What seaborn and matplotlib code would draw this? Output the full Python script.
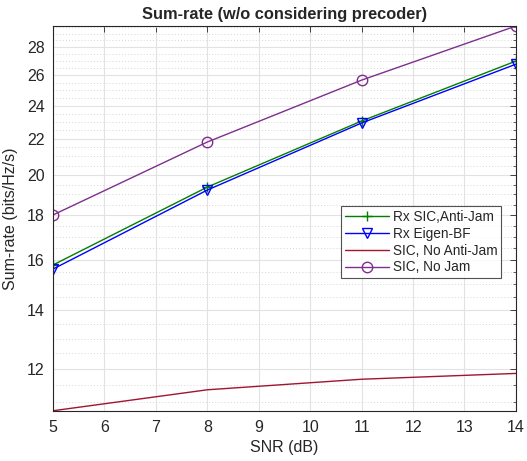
import numpy as np
import pandas as pd
import matplotlib
matplotlib.use("Agg")
import matplotlib.pyplot as plt
import seaborn as sns
from matplotlib.ticker import FixedLocator, FixedFormatter, NullFormatter, NullLocator

snr = [5, 8, 11, 14]
rx_sic_anti_jam = [15.78, 19.37, 23.05, 26.99]
rx_eigen_bf = [15.61, 19.22, 22.93, 26.77]
sic_no_anti_jam = [10.75, 11.36, 11.68, 11.86]
sic_no_jam = [18.0, 21.81, 25.67, 29.6]

labels = ["Rx SIC,Anti-Jam", "Rx Eigen-BF", "SIC, No Anti-Jam", "SIC, No Jam"]
series = [rx_sic_anti_jam, rx_eigen_bf, sic_no_anti_jam, sic_no_jam]
yticks = [12, 14, 16, 18, 20, 22, 24, 26, 28]
xticks = [5, 6, 7, 8, 9, 10, 11, 12, 13, 14]

sns.set_theme(style="white")
plt.rcParams['font.family'] = ['Liberation Sans', 'DejaVu Sans']

fig = plt.figure(figsize=(5.27, 4.61), dpi=100)
ax = fig.add_axes([0.1006, 0.109, 0.8784, 0.8346])

colors = ["#008000", "#0000ff", "#a2142f", "#7e2f8e"]
markers = ["+", "v", None, "o"]

for lab, vals, c, m in zip(labels, series, colors, markers):
    df = pd.DataFrame({"SNR": snr, "rate": vals})
    kw = dict(color=c, linewidth=1.0, label=lab)
    if m is not None:
        kw.update(marker=m, markersize=7.5, markerfacecolor="none",
                  markeredgecolor=c, markeredgewidth=1.0)
    sns.lineplot(data=df, x="SNR", y="rate", ax=ax, **kw)

ax.set_yscale("log")
ax.set_xlim(5, 14)
ax.set_ylim(min(sic_no_anti_jam), max(sic_no_jam))
ax.xaxis.set_major_locator(FixedLocator(xticks))
ax.xaxis.set_minor_locator(NullLocator())
ax.yaxis.set_major_locator(FixedLocator(yticks))
ax.yaxis.set_major_formatter(FixedFormatter([str(t) for t in yticks]))
minor = [v for v in np.arange(10.5, 30.0, 0.5) if v not in yticks]
ax.yaxis.set_minor_locator(FixedLocator(minor))
ax.yaxis.set_minor_formatter(NullFormatter())

ax.grid(True, which="major", color="#e2e2e2", linewidth=0.8, linestyle="-")
ax.grid(True, which="minor", axis="y", color="#d6d6d6", linewidth=0.7, linestyle=(0, (1, 2.2)))
ax.grid(False, which="minor", axis="x")
ax.set_axisbelow(True)

for s in ax.spines.values():
    s.set_color("#262626")
    s.set_linewidth(0.8)
ax.tick_params(which="both", direction="in", top=True, right=True, colors="#262626",
               labelsize=11.5, labelcolor="#262626")
ax.tick_params(which="major", length=4, width=0.6)
ax.tick_params(which="minor", length=2.5, width=0.5)
ax.tick_params(axis="x", pad=7)
ax.tick_params(axis="y", pad=6)

ax.set_xlabel("SNR (dB)", fontsize=11.5, color="#262626", labelpad=3)
ax.set_ylabel("Sum-rate (bits/Hz/s)", fontsize=11.5, color="#262626", labelpad=6)
ax.set_title("Sum-rate (w/o considering precoder)", fontsize=11.8, fontweight="bold", pad=5)

leg = ax.legend(loc="upper left", bbox_to_anchor=(0.622, 0.532), borderaxespad=0,
                fontsize=9.8, frameon=True, fancybox=False, edgecolor="#262626",
                handlelength=3.2, borderpad=0.3, labelspacing=0.2, handletextpad=0.3)
leg.get_frame().set_linewidth(0.8)

fig.savefig("out.png", dpi=100)
